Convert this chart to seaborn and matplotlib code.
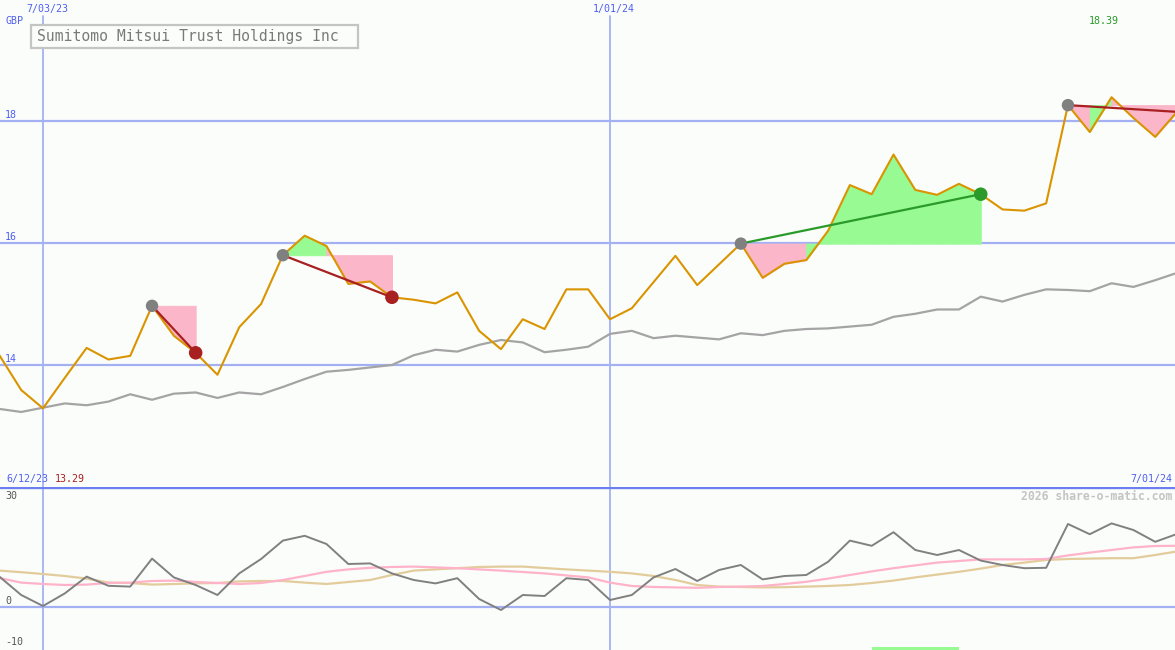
import numpy as np
import pandas as pd
import matplotlib
matplotlib.use("Agg")
import matplotlib.pyplot as plt
import matplotlib.dates as mdates
from matplotlib.patches import Rectangle
import seaborn as sns

# ---------------- data ----------------
start_date = "2023-06-19"
n_weeks = 55
price = [14.16, 13.59, 13.29, 13.79, 14.28, 14.09, 14.15, 14.97, 14.48, 14.20,
         13.84, 14.62, 15.00, 15.80, 16.12, 15.95, 15.33, 15.37, 15.11, 15.07,
         15.01, 15.19, 14.56, 14.26, 14.75, 14.59, 15.24, 15.24, 14.75, 14.93,
         15.36, 15.79, 15.31, 15.65, 15.99, 15.43, 15.66, 15.72, 16.20, 16.95,
         16.80, 17.45, 16.87, 16.79, 16.97, 16.80, 16.55, 16.53, 16.65, 18.26,
         17.82, 18.39, 18.05, 17.74, 18.15]
moving_avg = [13.28, 13.23, 13.30, 13.37, 13.34, 13.40, 13.52, 13.43, 13.53, 13.55,
              13.46, 13.55, 13.52, 13.64, 13.77, 13.89, 13.92, 13.96, 14.00, 14.16,
              14.25, 14.22, 14.33, 14.41, 14.37, 14.21, 14.25, 14.30, 14.51, 14.56,
              14.44, 14.48, 14.45, 14.42, 14.52, 14.49, 14.56, 14.59, 14.60, 14.63,
              14.66, 14.79, 14.84, 14.91, 14.91, 15.12, 15.04, 15.15, 15.24, 15.23,
              15.21, 15.34, 15.28, 15.39, 15.51]
oscillator = [7.6, 3.0, 0.25, 3.4, 7.6, 5.3, 5.1, 12.1, 7.4, 5.5,
              3.0, 8.4, 12.0, 16.6, 17.8, 15.75, 10.75, 10.9, 8.4, 6.75,
              5.9, 7.2, 2.0, -0.75, 3.0, 2.75, 7.2, 6.75, 1.75, 3.0,
              7.4, 9.5, 6.5, 9.25, 10.5, 6.9, 7.75, 8.0, 11.3, 16.6,
              15.3, 18.7, 14.25, 13.0, 14.25, 11.6, 10.5, 9.7, 9.8, 20.75,
              18.2, 20.9, 19.25, 16.3, 18.25]
osc_fast = [7.25, 6.1, 5.75, 5.5, 5.6, 6.0, 6.1, 6.5, 6.6, 6.25,
            6.0, 5.75, 6.0, 6.75, 7.75, 8.8, 9.4, 9.8, 10.0, 10.1,
            9.9, 9.7, 9.4, 9.1, 8.75, 8.4, 7.9, 7.4, 6.1, 5.25,
            5.0, 4.9, 4.8, 5.0, 5.1, 5.25, 5.75, 6.3, 7.1, 8.0,
            8.9, 9.7, 10.4, 11.1, 11.5, 11.9, 11.9, 11.9, 12.0, 12.9,
            13.6, 14.25, 14.9, 15.25, 15.3]
osc_slow = [9.1, 8.7, 8.25, 7.75, 7.1, 6.1, 6.0, 5.6, 5.75, 5.9,
            6.0, 6.4, 6.5, 6.5, 6.1, 5.75, 6.25, 6.75, 8.0, 9.1,
            9.4, 9.7, 10.0, 10.1, 10.1, 9.75, 9.4, 9.1, 8.8, 8.4,
            7.75, 6.75, 5.5, 5.1, 5.0, 4.9, 4.95, 5.1, 5.25, 5.5,
            6.0, 6.6, 7.4, 8.1, 8.8, 9.6, 10.5, 11.1, 11.75, 12.0,
            12.1, 12.2, 12.2, 13.0, 13.9]
# trades: index of entry / exit week, result, whether closed
trade_entry = [7, 13, 34, 49]
trade_exit = [9, 18, 45, 54]
trade_win = [False, False, True, False]
trade_closed = [True, True, True, False]
signal_bar = ["2024-03-25", "2024-04-22"]
price_ticks = [14, 16, 18]
osc_ticks = [30, 0, -10]
date_ticks = ["2023-07-03", "2024-01-01"]
date_tick_labels = ["7/03/23", "1/01/24"]
title = "Sumitomo Mitsui Trust Holdings Inc"
currency = "GBP"
range_start_label = "6/12/23"
range_end_label = "7/01/24"
min_label = "13.29"
max_label = "18.39"
credit = "2026 share-o-matic.com"

dates = pd.date_range(start_date, periods=n_weeks, freq="7D")
df = pd.DataFrame({"date": dates, "price": price, "ma": moving_avg,
                   "osc": oscillator, "fast": osc_fast, "slow": osc_slow})

# ---------------- style ----------------
BG = "#fbfdfb"
GRID = "#a3b1f3"
SEP = "#6b7ff0"
LBL = "#4f5ff0"
ORANGE = "#d99400"
GRAYMA = "#a4a4a4"
OSC = "#808080"
PINKL = "#ffb3c8"
TAN = "#e3cc9c"
PINKF = "#fbb6c9"
GREENF = "#98fa92"
RED = "#a82020"
GREEN = "#2a9a2a"

sns.set_theme(style="white")
plt.rcParams["font.family"] = ["DejaVu Sans Mono", "DejaVu Sans"]

W, H = 1175, 650
fig = plt.figure(figsize=(W / 100, H / 100), dpi=100, facecolor=BG)
ax = fig.add_axes([0, 1 - 487 / H, 1, 487 / H])
ax2 = fig.add_axes([0, 0, 1, 163 / H])

d0 = mdates.date2num(pd.Timestamp(date_ticks[0]))
d1 = mdates.date2num(pd.Timestamp(date_ticks[1]))
ppd = (610 - 43) / (d1 - d0)
xl = (d0 - 43 / ppd, d0 + (W - 43) / ppd)

for a in (ax, ax2):
    a.set_facecolor(BG)
    for s in a.spines.values():
        s.set_visible(False)

# price panel limits: 61 px per unit, 18 at y=121
ax.set_ylim(14 - (487 - 365) / 61, 18 + 121 / 61)
ax2.set_ylim(-10 - 3 / 4, 30)

# grid
for t in price_ticks:
    ax.axhline(t, color=GRID, lw=1.6, zorder=1)
for d in date_ticks:
    ax.axvline(pd.Timestamp(d), ymax=1 - 16 / 487, color=GRID, lw=1.3, zorder=1)
    ax2.axvline(pd.Timestamp(d), color=GRID, lw=1.3, zorder=1)
ax2.axhline(0, color=GRID, lw=1.6, zorder=1)
ax2.axhline(30, color=SEP, lw=2.4, zorder=5)

# trade fills
for e, x, win, closed in zip(trade_entry, trade_exit, trade_win, trade_closed):
    entry = price[e]
    for i in range(e, x):
        col = GREENF if price[i + 1] > entry else PINKF
        ax.fill_between(dates[i:i + 2], price[i:i + 2], entry, facecolor=col,
                        edgecolor=col, lw=0.7, zorder=2)

# series
sns.lineplot(data=df, x="date", y="ma", ax=ax, color=GRAYMA, lw=1.6, zorder=3)
sns.lineplot(data=df, x="date", y="price", ax=ax, color=ORANGE, lw=1.5, zorder=4)

# trade lines & markers
for e, x, win, closed in zip(trade_entry, trade_exit, trade_win, trade_closed):
    col = GREEN if win else RED
    ax.plot([dates[e], dates[x]], [price[e], price[x]], color=col, lw=1.6, zorder=5)
entries = df.iloc[trade_entry]
sns.scatterplot(data=entries, x="date", y="price", ax=ax, color="#808080",
                s=80, edgecolor="none", zorder=6)
closed_idx = [x for x, c in zip(trade_exit, trade_closed) if c]
closed_col = [GREEN if w else RED for w, c in zip(trade_win, trade_closed) if c]
exits = df.iloc[closed_idx]
ax.scatter(exits["date"], exits["price"], c=closed_col, s=95, edgecolors="none", zorder=6)

# oscillator panel
sns.lineplot(data=df, x="date", y="slow", ax=ax2, color=TAN, lw=1.6, zorder=2)
sns.lineplot(data=df, x="date", y="fast", ax=ax2, color=PINKL, lw=1.6, zorder=3)
sns.lineplot(data=df, x="date", y="osc", ax=ax2, color=OSC, lw=1.4, zorder=4)
ax2.fill_between([pd.Timestamp(signal_bar[0]), pd.Timestamp(signal_bar[1])],
                 -10, -11, color=GREENF, lw=0, zorder=2)

for a in (ax, ax2):
    a.set_xlim(xl)
    a.set_xlabel("")
    a.set_ylabel("")
    a.set_xticks([])
    a.set_yticks([])


def ftext(x, y, s, **kw):
    fig.text(x / W, 1 - y / H, s, va="center", **kw)


FS = 7.2
for d, lab in zip(date_ticks, date_tick_labels):
    px = 43 + (mdates.date2num(pd.Timestamp(d)) - d0) * ppd
    ftext(px + 4, 9, lab, ha="center", color=LBL, fontsize=FS)
ftext(5, 21, currency, ha="left", color=LBL, fontsize=FS)
for t in price_ticks:
    py = 121 + (18 - t) * 61
    ftext(5, py - 6, str(t), ha="left", color=LBL, fontsize=FS)
ftext(6, 479, range_start_label, ha="left", color=LBL, fontsize=FS)
ftext(55, 479, min_label, ha="left", color=RED, fontsize=FS)
ftext(1172, 479, range_end_label, ha="right", color=LBL, fontsize=FS)
ftext(1089, 21, max_label, ha="left", color=GREEN, fontsize=FS)
for t, py in zip(osc_ticks, [496, 601, 642]):
    ftext(5, py, str(t), ha="left", color="#555555", fontsize=FS)
ftext(1172, 496, credit, ha="right", color="#c4c4c4", fontsize=8.3, fontweight="bold")

# title box
fig.patches.append(Rectangle((31 / W, 1 - 48 / H), (358 - 31) / W, 23 / H,
                             transform=fig.transFigure, fc=BG, ec="#c4c4c4",
                             lw=1.6, zorder=10))
ftext(37, 36.5, title, ha="left", color="#7a7a7a", fontsize=10.6, zorder=11)

fig.savefig("out.png", dpi=100, facecolor=BG)
